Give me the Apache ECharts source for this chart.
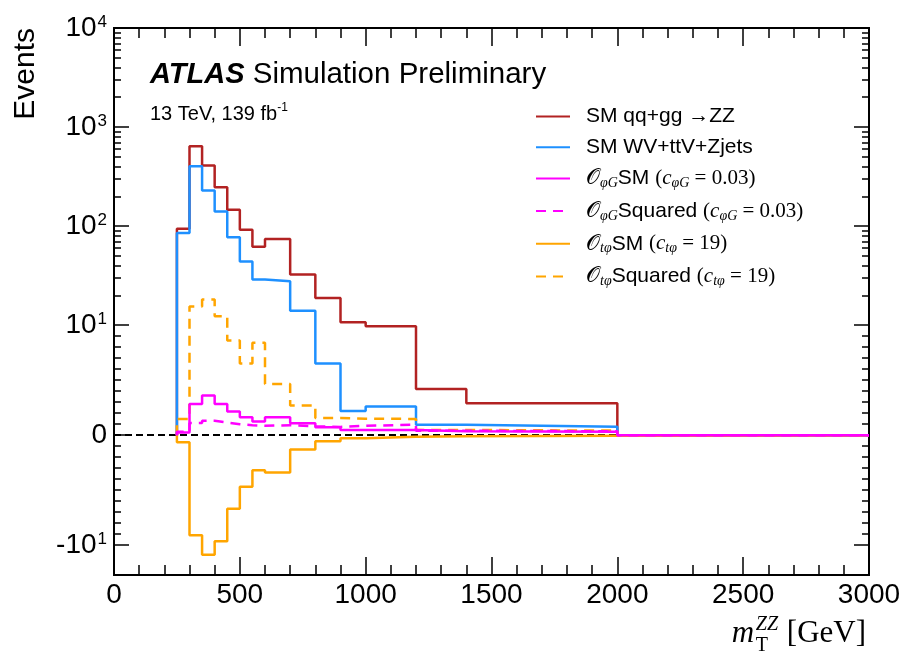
<!DOCTYPE html>
<html><head><meta charset="utf-8">
<script src="https://cdn.jsdelivr.net/npm/echarts@6/dist/echarts.min.js"></script>
<style>html,body{margin:0;padding:0;background:#fff}#c{width:907px;height:659px}</style>
</head><body><div id="c"></div>
<script>
// ---- data ----
const binEdges = [250, 300, 350, 400, 450, 500, 550, 600, 700, 800, 900, 1000, 1200, 1400, 2000, 3000];
const smZZ    = [94, 640, 408, 247, 146, 92, 62, 74, 32.4, 18.8, 10.7, 9.9, 4.2, 2.9, 0];
const smOther = [85, 402, 229, 140, 77, 44, 28.8, 27.7, 14, 6.5, 2.2, 2.6, 0.95, 0.77, 0];
const phiGSM  = [0.25, 2.84, 3.6, 2.84, 2.16, 1.62, 1.25, 1.62, 1.07, 0.71, 0.47, 0.47, 0.35, 0.3, 0];
const phiGSq  = [0.3, 1.1, 1.3, 1.15, 1.0, 0.9, 0.85, 0.9, 0.8, 0.75, 0.85, 0.95, 0.4, 0.35, 0];
const tphiSM  = [-0.65, -9.1, -12.5, -9.65, -6.7, -4.7, -3.2, -3.4, -1.3, -0.56, -0.29, -0.15, -0.1, -0.05, 0];
const tphiSq  = [1.47, 15.4, 18.1, 12.3, 8.6, 6.5, 8.4, 4.65, 2.7, 1.56, 1.5, 1.47, 0.47, 0.41, 0];
const seriesNames = ['SM qq+gg →ZZ', 'SM WV+ttV+Zjets', 'OphiG SM', 'OphiG Squared', 'Otphi SM', 'Otphi Squared'];
const legendLabels = [
  '{t|SM qq+gg }{m|→}{t|ZZ}',
  '{t|SM WV+ttV+Zjets}',
  '{o|𝒪}{sb|φG}{t|SM }{m|(}{mi|c}{sb|φG}{m| = 0.03)}',
  '{o|𝒪}{sb|φG}{t|Squared }{m|(}{mi|c}{sb|φG}{m| = 0.03)}',
  '{o|𝒪}{sb|tφ}{t|SM }{m|(}{mi|c}{sb|tφ}{m| = 19)}',
  '{o|𝒪}{sb|tφ}{t|Squared }{m|(}{mi|c}{sb|tφ}{m| = 19)}'
];
const yMajorTicks = [-10, 0, 10, 100, 1000, 10000];
const yTickLabels = ['{b|-10}{s|1}', '{z|0}', '{b|10}{s|1}', '{b|10}{s|2}', '{b|10}{s|3}', '{b|10}{s|4}'];
const yRange = [-20, 10000];
const xRange = [0, 3000];

// ---- symlog scale (linthresh 10, linscale 1) ----
const LT = 10, LS = 1 / (1 - 1 / 10);
function sym(v) {
  const a = Math.abs(v);
  return a <= LT ? v / LT * LS : Math.sign(v) * (LS + Math.log10(a / LT));
}
const yMin = sym(yRange[0]), yMax = sym(yRange[1]);
const majorT = yMajorTicks.map(sym);
const minorRaw = [];
for (let i = 1; i <= 9; i++) { minorRaw.push(i, -i); }
for (let k = 1; k <= 3; k++) for (let m = 2; m <= 9; m++) minorRaw.push(m * Math.pow(10, k));
const minorT = minorRaw.map(sym);

function hist(vals) {
  const pts = [[binEdges[0], sym(0)]];
  vals.forEach((v, i) => pts.push([binEdges[i], sym(v)]));
  pts.push([binEdges[binEdges.length - 1], sym(vals[vals.length - 1])]);
  return pts;
}

const SANS = 'Liberation Sans';
const SERIF = 'Liberation Serif';
const BLACK = '#000';

function yAx(pos, ticks, len, withLabels) {
  const ax = {
    type: 'value', position: pos, min: yMin, max: yMax,
    axisLine: { show: true, onZero: false, lineStyle: { color: BLACK, width: 2 } },
    axisTick: { show: true, inside: true, length: len, customValues: ticks, lineStyle: { color: BLACK, width: 1.5 } },
    axisLabel: { show: false },
    splitLine: { show: false }
  };
  if (withLabels) {
    ax.axisLabel = {
      show: true, customValues: majorT, margin: 7, color: BLACK,
      formatter: (val) => {
        let best = 0, bd = 1e9;
        majorT.forEach((t, i) => { const d = Math.abs(t - val); if (d < bd) { bd = d; best = i; } });
        return yTickLabels[best];
      },
      rich: {
        b: { fontFamily: SANS, fontSize: 28, lineHeight: 28, padding: [10, 0, 0, 0], verticalAlign: 'bottom', color: BLACK },
        s: { fontFamily: SANS, fontSize: 17, lineHeight: 18, verticalAlign: 'top', color: BLACK, padding: [0, 0, 0, 1] },
        z: { fontFamily: SANS, fontSize: 28, lineHeight: 28, color: BLACK }
      }
    };
    ax.name = 'Events';
    ax.nameLocation = 'end';
    ax.nameRotate = 90;
    ax.nameGap = 0;
    ax.nameTextStyle = { fontFamily: SANS, fontSize: 30, color: BLACK, align: 'right', verticalAlign: 'bottom', padding: [0, 0, 73, 0] };
  }
  return ax;
}

function xAx(pos, withLabels) {
  return {
    type: 'value', position: pos, min: xRange[0], max: xRange[1], interval: 500,
    axisLine: { show: true, onZero: false, lineStyle: { color: BLACK, width: 2 } },
    axisTick: { show: true, inside: true, length: 18, lineStyle: { color: BLACK, width: 1.5 } },
    minorTick: { show: true, splitNumber: 5, length: 10, lineStyle: { color: BLACK, width: 1.5 } },
    axisLabel: { show: withLabels, fontFamily: SANS, fontSize: 28, color: BLACK, margin: 6, formatter: (v) => String(v) },
    splitLine: { show: false }
  };
}

function lineSeries(name, vals, color, dashed, z) {
  return {
    name: name, type: 'line', step: 'end', data: hist(vals), symbol: 'none',
    xAxisIndex: 0, yAxisIndex: 0, z: z,
    lineStyle: { color: color, width: 2.5, type: dashed ? [10, 7] : 'solid', cap: 'butt' },
    itemStyle: { color: color },
    emphasis: { disabled: true }
  };
}

const series = [
  Object.assign(lineSeries(seriesNames[0], smZZ, '#B22222', false, 3), {
    markLine: {
      silent: true, symbol: ['none', 'none'], label: { show: false }, z: 1,
      lineStyle: { color: BLACK, width: 2, type: [7, 4] },
      data: [{ yAxis: sym(0) }]
    }
  }),
  lineSeries(seriesNames[1], smOther, '#1E90FF', false, 4),
  lineSeries(seriesNames[5], tphiSq, '#FFA500', true, 5),
  lineSeries(seriesNames[4], tphiSM, '#FFA500', false, 6),
  lineSeries(seriesNames[3], phiGSq, '#FF00FF', true, 7),
  lineSeries(seriesNames[2], phiGSM, '#FF00FF', false, 8)
];

const chart = echarts.init(document.getElementById('c'), null, { renderer: 'canvas' });
chart.setOption({
  animation: false,
  backgroundColor: '#fff',
  grid: { left: 114, right: 38, top: 28, bottom: 84, containLabel: false, outerBoundsMode: 'none' },
  xAxis: [xAx('bottom', true), xAx('top', false)],
  yAxis: [yAx('left', majorT, 15, true), yAx('left', minorT, 7, false), yAx('right', majorT, 15, false), yAx('right', minorT, 7, false)],
  legend: {
    orient: 'vertical', left: 535, top: 106, padding: 0, itemWidth: 34, itemHeight: 14, itemGap: 9.7,
    data: seriesNames,
    selectedMode: false,
    itemStyle: { opacity: 0 },
    formatter: (name) => legendLabels[seriesNames.indexOf(name)],
    textStyle: {
      padding: [0, 0, 0, 11],
      rich: {
        t: { fontFamily: SANS, fontSize: 21, lineHeight: 24, color: BLACK },
        m: { fontFamily: SERIF, fontSize: 21, lineHeight: 24, color: BLACK },
        mi: { fontFamily: SERIF, fontStyle: 'italic', fontSize: 21, lineHeight: 24, color: BLACK },
        o: { fontFamily: SERIF + ', DejaVu Serif, DejaVu Sans', fontSize: 22, lineHeight: 24, color: BLACK },
        sb: { fontFamily: SERIF, fontStyle: 'italic', fontSize: 14, lineHeight: 12, verticalAlign: 'bottom', color: BLACK }
      }
    }
  },
  graphic: [
    {
      type: 'text', left: 150, top: 60, silent: true,
      style: {
        text: '{b|ATLAS}{r| Simulation Preliminary}',
        rich: {
          b: { fontFamily: SANS, fontWeight: 'bold', fontStyle: 'italic', fontSize: 29, lineHeight: 30, fill: BLACK },
          r: { fontFamily: SANS, fontSize: 29.5, lineHeight: 30, fill: BLACK }
        }
      }
    },
    {
      type: 'text', left: 150, top: 102, silent: true,
      style: {
        text: '{r|13 TeV, 139 fb}{s|-1}',
        rich: {
          r: { fontFamily: SANS, fontSize: 20, lineHeight: 24, fill: BLACK },
          s: { fontFamily: SANS, fontSize: 12, lineHeight: 12, verticalAlign: 'top', fill: BLACK }
        }
      }
    },
    {
      type: 'group', right: 41, top: 615, silent: true,
      children: [
        { type: 'text', x: 0, y: 0, style: { text: 'm', fontFamily: SERIF, fontStyle: 'italic', fontSize: 31, fill: BLACK, verticalAlign: 'top' } },
        { type: 'text', x: 24, y: 18, style: { text: 'T', fontFamily: SERIF, fontSize: 20, fill: BLACK, verticalAlign: 'top' } },
        { type: 'text', x: 24, y: -3, style: { text: 'ZZ', fontFamily: SERIF, fontStyle: 'italic', fontSize: 20, fill: BLACK, verticalAlign: 'top' } },
        { type: 'text', x: 55, y: 0, style: { text: '[GeV]', fontFamily: SERIF, fontSize: 31, fill: BLACK, verticalAlign: 'top' } }
      ]
    }
  ],
  series: series
});
</script>
</body></html>
